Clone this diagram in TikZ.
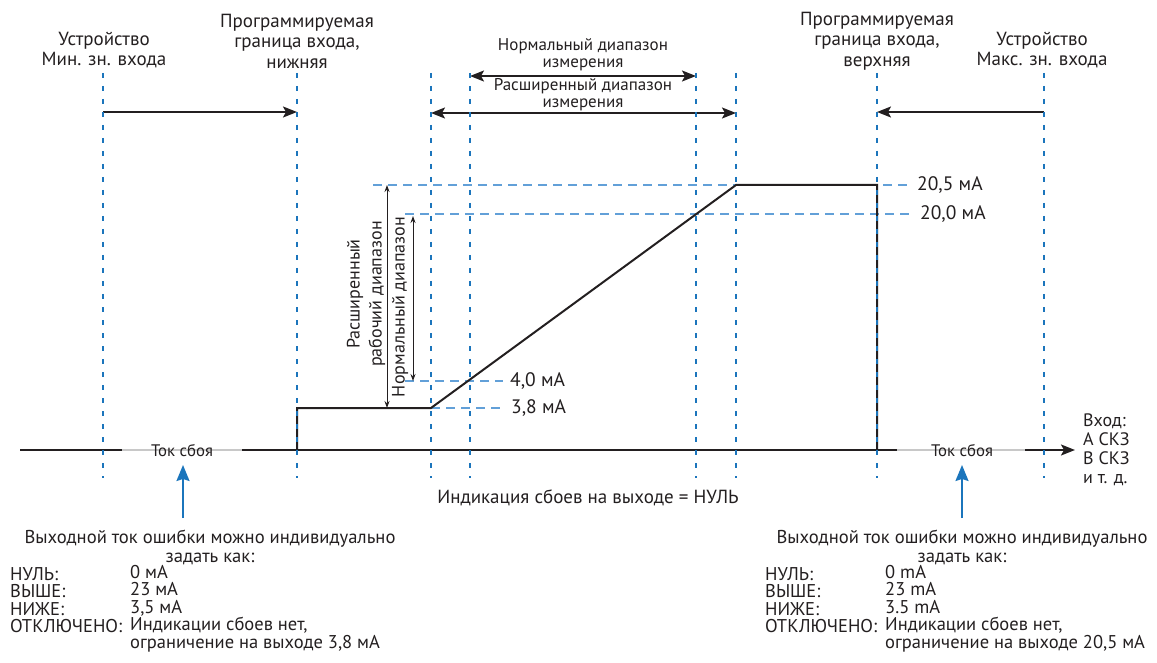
\documentclass[tikz,border=0pt]{standalone}
\usepackage{fontspec}
\setmainfont{PT Sans}
\usetikzlibrary{arrows.meta}
\definecolor{txt}{HTML}{231F20}
\definecolor{vblue}{HTML}{1B75BC}
\definecolor{hblue}{HTML}{62A0D8}
\definecolor{fgray}{HTML}{C8C8C8}
\begin{document}
\begin{tikzpicture}[x=1pt,y=-1pt,
  vline/.style={vblue, line width=1.3pt, dash pattern=on 5pt off 8pt},
  hline/.style={hblue, line width=1.3pt, dash pattern=on 9pt off 6pt},
  sig/.style={txt, line width=2pt},
  gline/.style={fgray, line width=2pt},
  bigtip/.style={-{Stealth[length=14pt,width=11pt,inset=3pt]}},
  bigtips/.style={{Stealth[length=14pt,width=11pt,inset=3pt]}-{Stealth[length=14pt,width=11pt,inset=3pt]}},
  rangearrow/.style={txt, line width=2pt},
  thinarrow/.style={txt, line width=1pt, {Stealth[length=7pt,width=5pt]}-{Stealth[length=7pt,width=5pt]}},
  bluearrow/.style={vblue, line width=1.8pt, -{Stealth[length=16pt,width=13pt,inset=2pt]}},
  lbl/.style={txt, inner sep=0pt, align=center, font=\fontsize{19}{20.5}\selectfont},
  mid/.style={txt, inner sep=0pt, align=center, font=\fontsize{17}{17}\selectfont},
  rot/.style={txt, inner sep=0pt, align=center, rotate=90, font=\fontsize{18}{22}\selectfont},
  val/.style={txt, inner sep=0pt, anchor=west, font=\fontsize{19.5}{19}\selectfont},
  inlbl/.style={txt, inner sep=0pt, anchor=west, align=left, font=\fontsize{18}{19}\selectfont},
  fault/.style={txt, inner sep=0pt, font=\fontsize{16.7}{16}\selectfont},
  bot/.style={txt, inner sep=0pt, align=left, font=\fontsize{18.5}{17.4}\selectfont},
  head/.style={txt, inner sep=0pt, align=center, font=\fontsize{18.6}{19}\selectfont},
]
\useasboundingbox (0,0) rectangle (1157,663);

% vertical line coordinates
\foreach \i/\x in {1/103,2/297,3/431,4/470,5/696,6/736,7/877,8/1044}{
  \coordinate (vt\i) at (\x,73);
  \coordinate (vb\i) at (\x,478);
}

% horizontal dashed lines
\coordinate (h1a) at (373,185); \coordinate (h1b) at (910,185);
\coordinate (h2a) at (405,214); \coordinate (h2b) at (910,214);
\coordinate (h3a) at (405,381); \coordinate (h3b) at (503,381);
\coordinate (h4a) at (431,408); \coordinate (h4b) at (503,408);
\draw[hline] (h1a) -- (h1b);
\draw[hline] (h2a) -- (h2b);
\draw[hline] (h3a) -- (h3b);
\draw[hline] (h4a) -- (h4b);

% top labels
\node[lbl] (tMin) at (104,50) {Устройство\\Мин. зн. входа};
\node[lbl] (tLow) at (297,41) {Программируемая\\граница входа,\\нижняя};
\node[lbl] (tHigh) at (877,41) {Программируемая\\граница входа,\\верхняя};
\node[lbl] (tMax) at (1042,50) {Устройство\\Макс. зн. входа};

% top arrows
\coordinate (a1s) at (103,112); \coordinate (a1e) at (297,112);
\coordinate (a2s) at (1044,112); \coordinate (a2e) at (877,112);
\draw[rangearrow, bigtip] (a1s) -- (a1e);
\draw[rangearrow, bigtip] (a2s) -- (a2e);

\coordinate (n1) at (470,76); \coordinate (n2) at (696,76);
\coordinate (e1) at (431,113); \coordinate (e2) at (736,113);
\draw[rangearrow, bigtips] (n1) -- (n2);
\draw[rangearrow, bigtips] (e1) -- (e2);
\node[mid] (tNorm) at (583,54.5) {Нормальный диапазон\\измерения};
\node[mid] (tExt) at (583,94.5) {Расширенный диапазон\\измерения};

% value labels
\node[val] (l205) at (917,185) {20,5 мА};
\node[val] (l200) at (920,214) {20,0 мА};
\node[val] (l40) at (510,381) {4,0 мА};
\node[val] (l38) at (511,408) {3,8 мА};

% vertical range arrows
\coordinate (r1t) at (387,185); \coordinate (r1b) at (387,408);
\coordinate (r2t) at (413,216); \coordinate (r2b) at (413,381);
\draw[thinarrow] (r1t) -- (r1b);
\draw[thinarrow] (r2t) -- (r2b);
\node[rot] (tExtW) at (366,294) {Расширенный\\рабочий диапазон};
\node[rot] (tNormW) at (400,307) {Нормальный диапазон};

% baseline
\coordinate (b0) at (20,450); \coordinate (b1) at (122,450);
\coordinate (b2) at (242,450); \coordinate (b3) at (897,450);
\coordinate (b4) at (1025,450); \coordinate (b5) at (1075,450);
\draw[sig] (b0) -- (b1);
\draw[gline] (b1) -- (b2);
\draw[sig] (b2) -- (b3);
\draw[gline] (b3) -- (b4);
\draw[sig, bigtip] (b4) -- (b5);
\node[fault] (f1) at (182,451) {Ток сбоя};
\node[fault] (f2) at (962,451) {Ток сбоя};

% signal
\coordinate (s0) at (297,450); \coordinate (s1) at (297,408);
\coordinate (s2) at (431,408); \coordinate (s3) at (736,185);
\coordinate (s4) at (877,185); \coordinate (s5) at (877,450);
\draw[sig, line join=miter] (s0) -- (s1) -- (s2) -- (s3) -- (s4) -- (s5);

% vertical dashed lines on top
\foreach \i in {1,...,8}{
  \draw[vline] (vt\i) -- (vb\i);
}

% input label
\node[inlbl] (tIn) at (1083,450) {Вход:\\А СКЗ\\В СКЗ\\и т. д.};

% indication text
\node[lbl] (tInd) at (588,498) {Индикация сбоев на выходе = НУЛЬ};

% blue arrows
\coordinate (u1s) at (183,518); \coordinate (u1e) at (183,465);
\coordinate (u2s) at (962,518); \coordinate (u2e) at (962,465);
\draw[bluearrow] (u1s) -- (u1e);
\draw[bluearrow] (u2s) -- (u2e);

% bottom left block
\node[head] (hL) at (210,547.5) {Выходной ток ошибки можно индивидуально\\задать как:};
\node[bot, anchor=west] (kL) at (10,600) {НУЛЬ:\\ВЫШЕ:\\НИЖЕ:\\ОТКЛЮЧЕНО:};
\node[bot, anchor=west] (vL) at (130,608.5) {0 мА\\23 мА\\3,5 мА\\Индикации сбоев нет,\\ограничение на выходе 3,8 мА};

% bottom right block
\node[head] (hR) at (962,547.5) {Выходной ток ошибки можно индивидуально\\задать как:};
\node[bot, anchor=west] (kR) at (765,600) {НУЛЬ:\\ВЫШЕ:\\НИЖЕ:\\ОТКЛЮЧЕНО:};
\node[bot, anchor=west] (vR) at (885,608.5) {0 mA\\23 mA\\3.5 mA\\Индикации сбоев нет,\\ограничение на выходе 20,5 мА};
\end{tikzpicture}
\end{document}
